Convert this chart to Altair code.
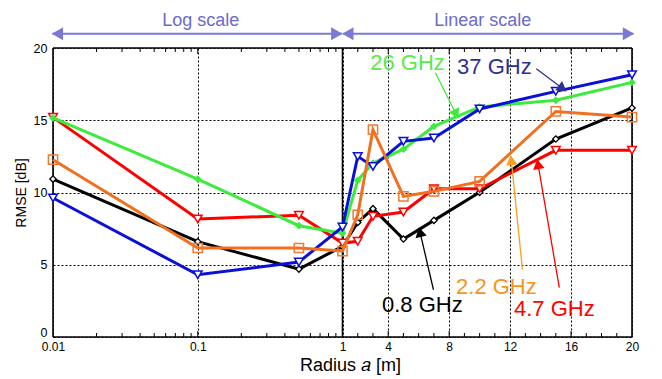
import math
import numpy as np
import pandas as pd
import altair as alt

# ---------------- data ----------------
radius = [0.01, 0.1, 0.5, 1, 2, 3, 5, 7, 10, 15, 20]
rmse_08 = [10.93, 6.6, 4.7, 6.27, 7.93, 8.88, 6.78, 8.07, 10.01, 13.7, 15.85]
rmse_22 = [12.27, 6.16, 6.16, 5.95, 8.46, 14.35, 9.73, 10.08, 10.77, 15.61, 15.22]
rmse_47 = [15.2, 8.17, 8.42, 6.5, 6.62, 8.35, 8.65, 10.26, 10.26, 12.92, 12.92]
rmse_26 = [15.16, 10.93, 7.70, 7.18, 10.84, 12.04, 13.0, 14.58, 15.92, 16.38, 17.62]
rmse_37 = [9.62, 4.31, 5.19, 7.61, 12.5, 11.8, 13.54, 13.77, 15.78, 17.0, 18.15]

series_names = ["0.8 GHz", "4.7 GHz", "26 GHz", "37 GHz", "2.2 GHz"]
series_values = [rmse_08, rmse_47, rmse_26, rmse_37, rmse_22]
line_colors = ["#000000", "#FF0000", "#3DEB3D", "#0A10D8", "#F07020"]
marker_shapes = ["diamond", "triangle-down", "diamond", "triangle-down", "square"]

x_tick_radius = [0.01, 0.1, 1, 4, 8, 12, 16, 20]
minor_log = [0.02, 0.03, 0.04, 0.05, 0.06, 0.07, 0.08, 0.09,
             0.2, 0.3, 0.4, 0.5, 0.6, 0.7, 0.8, 0.9]
minor_lin = [2, 3, 5, 6, 7, 9, 10, 11, 13, 14, 15, 17, 18, 19]
y_ticks = [0, 5, 10, 15, 20]

# annotations (radius, rmse)
ann_text = ["26 GHz", "37 GHz", "0.8 GHz", "2.2 GHz", "4.7 GHz"]
ann_colors = ["#5BEA4A", "#2E3190", "#000000", "#F7941D", "#FF0000"]
ann_tx = [5.27, 10.97, 6.24, 11.1, 14.9]
ann_ty = [18.98, 18.71, 2.24, 3.47, 1.96]
arr_x1 = [7.10, 13.72, 6.97, 12.81, 15.23]
arr_y1 = [18.29, 18.56, 3.27, 4.66, 3.41]
arr_x2 = [8.41, 15.36, 6.11, 12.09, 13.85]
arr_y2 = [15.52, 17.26, 7.15, 12.13, 11.85]
arr_colors = ["#3DEB3D", "#2E3190", "#000000", "#F7A020", "#FF0000"]

scale_text = ["Log scale", "Linear scale"]
scale_text_r = [0.105, 10.2]
scale_arrow_r1 = [0.0099, 1.02]
scale_arrow_r2 = [0.99, 20.1]

# ---------------- helpers ----------------
W, H = 579, 289
XD = [0, 4]
YD = [0, 20]


def pos(r):
    r = float(r)
    return math.log10(r) + 2 if r <= 1 else 2 + (r - 1) * 2 / 19


X = alt.X("x:Q", scale=alt.Scale(domain=XD, nice=False, zero=False),
          axis=alt.Axis(values=[pos(r) for r in x_tick_radius],
                        labelExpr="datum.value < 0.5 ? '0.01' : datum.value < 1.5 ? '0.1' : format(1 + (datum.value - 2) * 9.5, '.0f')",
                        grid=True, gridDash=[2, 2], gridColor="#000000", gridOpacity=1, gridWidth=1,
                        ticks=False, domain=False, labelFontSize=12, labelPadding=4,
                        labelColor="#000000", labelFont="Liberation Sans",
                        title="Radius \U0001D44E [m]", titleFontSize=18, titleFontWeight="normal",
                        titleFont="Liberation Sans", titleColor="#000000", titlePadding=4,
                        titleX=297,
                        labelFlush=False, labelOverlap=False))
Y = alt.Y("y:Q", scale=alt.Scale(domain=YD, nice=False, zero=False),
          axis=alt.Axis(values=y_ticks, grid=True, gridDash=[2, 2], gridColor="#000000",
                        gridOpacity=1, gridWidth=1, ticks=False, domain=False,
                        labelFontSize=12.5, labelPadding=6, labelColor="#000000",
                        labelFont="Liberation Sans",
                        labelBaseline={"condition": {"test": "datum.value == 0", "value": "bottom"},
                                       "value": "middle"},
                        labelOffset={"condition": {"test": "datum.value == 0", "value": 2},
                                     "value": 0},
                        title="RMSE [dB]", titleFontSize=14, titleFontWeight="normal",
                        titleFont="Liberation Sans", titleColor="#000000", titlePadding=5))

layers = []

# minor / major inward ticks
tick_df = pd.DataFrame({"x": [pos(r) for r in minor_log + minor_lin]})
major_df = pd.DataFrame({"x": [pos(r) for r in x_tick_radius[1:-1] if r != 1]})
layers.append(alt.Chart(tick_df).mark_rule(color="#000000", strokeWidth=1).encode(
    x=X, y=alt.value(H), y2=alt.value(H - 4)))
layers.append(alt.Chart(tick_df).mark_rule(color="#000000", strokeWidth=1).encode(
    x=X, y=alt.value(0), y2=alt.value(4)))
layers.append(alt.Chart(major_df).mark_rule(color="#000000", strokeWidth=1).encode(
    x=X, y=alt.value(H), y2=alt.value(H - 6)))
layers.append(alt.Chart(major_df).mark_rule(color="#000000", strokeWidth=1).encode(
    x=X, y=alt.value(0), y2=alt.value(6)))

# border frame + scale split line
frame_df = pd.DataFrame({"x": [pos(0.01), pos(1), pos(20)]})
layers.append(alt.Chart(frame_df).mark_rule(color="#000000", strokeWidth=1.6).encode(
    x=X, y=alt.value(0), y2=alt.value(H)))
hframe_df = pd.DataFrame({"y": [0, 20], "x": [pos(0.01)] * 2, "x2": [pos(20)] * 2})
layers.append(alt.Chart(hframe_df).mark_rule(color="#000000", strokeWidth=1.4).encode(
    x=X, x2="x2:Q", y=Y))

# series
for name, vals, col, shp in zip(series_names, series_values, line_colors, marker_shapes):
    df = pd.DataFrame({"x": [pos(r) for r in radius], "y": vals, "series": name})
    layers.append(alt.Chart(df).mark_line(color=col, strokeWidth=3).encode(x=X, y=Y))
    if name == "26 GHz":
        pt = alt.Chart(df).mark_point(shape=shp, filled=True, color=col, size=60, opacity=1)
    elif name == "0.8 GHz":
        pt = alt.Chart(df).mark_point(shape=shp, filled=True, fill="#FFFFFF", stroke=col,
                                      strokeWidth=1.3, size=40, opacity=1)
    elif name == "2.2 GHz":
        pt = alt.Chart(df).mark_point(shape=shp, filled=False, stroke="#F07A30",
                                      strokeWidth=1.5, size=85, opacity=1)
    else:
        pt = alt.Chart(df).mark_point(shape=shp, filled=True, fill="#FFFFFF", stroke=col,
                                      strokeWidth=1.5, size=75, opacity=1)
    layers.append(pt.encode(x=X, y=Y))

# annotation arrows
sx = W / (XD[1] - XD[0])
sy = H / (YD[1] - YD[0])
arr_df = pd.DataFrame({
    "x": [pos(r) for r in arr_x1], "y": arr_y1,
    "x2": [pos(r) for r in arr_x2], "y2": arr_y2,
    "c": arr_colors,
})
ang = []
for a, b, c, d in zip(arr_df["x"], arr_df["y"], arr_df["x2"], arr_df["y2"]):
    dx = (c - a) * sx
    dy = -(d - b) * sy
    ang.append(math.degrees(math.atan2(dx, -dy)) % 360)
arr_df["angle"] = ang
layers.append(alt.Chart(arr_df).mark_rule(strokeWidth=1.3).encode(
    x=X, y=Y, x2="x2:Q", y2="y2:Q", color=alt.Color("c:N", scale=None)))
head_df = arr_df[["x2", "y2", "c", "angle"]].rename(columns={"x2": "x", "y2": "y"})
layers.append(alt.Chart(head_df).mark_point(shape="triangle", filled=True, size=130, opacity=1).encode(
    x=X, y=Y, angle=alt.Angle("angle:Q", scale=None), color=alt.Color("c:N", scale=None)))

txt_df = pd.DataFrame({"x": [pos(r) for r in ann_tx], "y": ann_ty, "t": ann_text, "c": ann_colors})
layers.append(alt.Chart(txt_df).mark_text(fontSize=22, font="Liberation Sans", baseline="middle",
                                          align="center").encode(
    x=X, y=Y, text="t:N", color=alt.Color("c:N", scale=None)))

# top "Log scale" / "Linear scale"
sa_df = pd.DataFrame({"x": [pos(r) for r in scale_arrow_r1], "x2": [pos(r) for r in scale_arrow_r2],
                      "y": [20.99, 20.99]})
layers.append(alt.Chart(sa_df).mark_rule(color="#7A7AD6", strokeWidth=2).encode(x=X, x2="x2:Q", y=Y))
heads = pd.DataFrame({
    "x": [pos(r) for r in scale_arrow_r1] + [pos(r) for r in scale_arrow_r2],
    "y": [20.99] * 4,
    "s": ["triangle-left", "triangle-left", "triangle-right", "triangle-right"],
})
heads["x"] = [v + d for v, d in zip(heads["x"], [0.035, 0.035, -0.035, -0.035])]
layers.append(alt.Chart(heads).mark_point(filled=True, color="#7A7AD6", size=170, opacity=1).encode(
    x=X, y=Y, shape=alt.Shape("s:N", scale=None)))
st_df = pd.DataFrame({"x": [pos(r) for r in scale_text_r], "y": [21.9, 21.9], "t": scale_text})
layers.append(alt.Chart(st_df).mark_text(fontSize=18, font="Liberation Sans", color="#6B6BCB",
                                         baseline="middle", align="center").encode(
    x=X, y=Y, text="t:N"))

chart = alt.layer(*layers).properties(
    width=W, height=H,
    autosize=alt.AutoSizeParams(type="none"),
    padding={"left": 45, "top": 40, "right": 20, "bottom": 42},
    background="#FFFFFF",
).configure_view(stroke=None)

chart.save("out.html", embed_options={"renderer": "svg", "actions": False})
